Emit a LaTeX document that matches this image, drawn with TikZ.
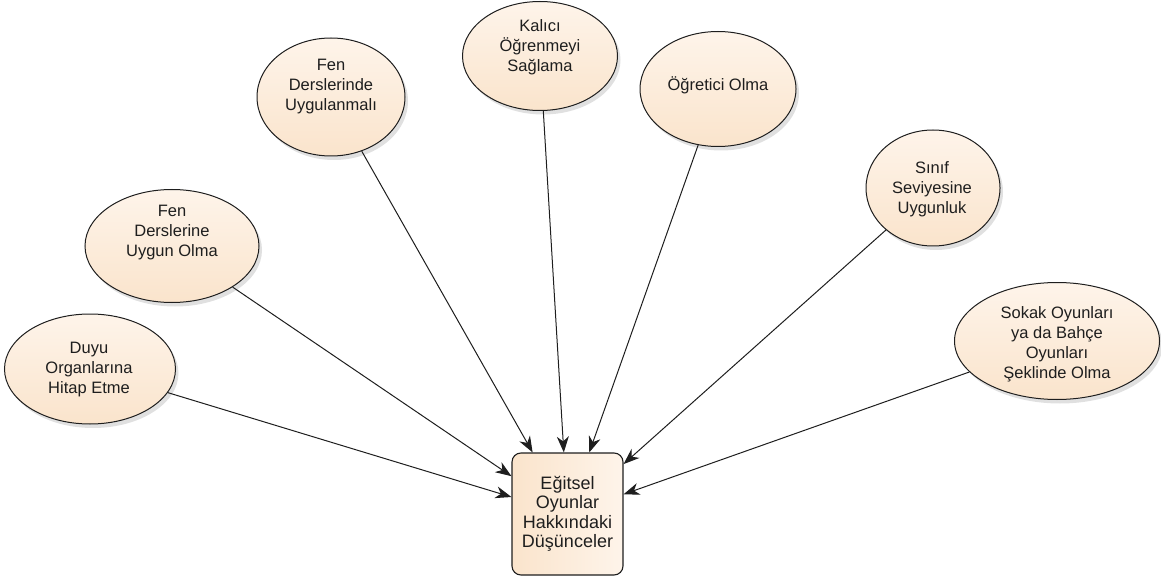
\documentclass[tikz,border=0pt]{standalone}
\usepackage{fontspec}
\setmainfont{Liberation Sans}
\usetikzlibrary{shapes.geometric,arrows.meta,shadows}
\definecolor{peach}{RGB}{250,228,204}
\definecolor{peachlight}{RGB}{254,244,234}
\definecolor{edge}{RGB}{30,30,30}
\definecolor{txt}{RGB}{30,30,30}
\tikzset{
  oval/.style={ellipse, draw=edge, line width=1pt, inner sep=0pt,
    top color=peachlight, bottom color=peach,
    drop shadow={shadow xshift=3pt, shadow yshift=-4pt, opacity=0.2, fill=black!60}},
  ovaltext/.style={align=center, font=\fontsize{16.5}{20}\selectfont, text=txt, inner sep=0pt},
  centerbox/.style={draw=edge, line width=1.1pt, rounded corners=9pt, inner sep=0pt,
    minimum width=111pt, minimum height=122pt, align=center,
    left color=peach, right color=peachlight,
    font=\fontsize{18}{19.5}\selectfont, text=txt},
  conn/.style={draw=edge, line width=1pt, -{Stealth[length=16pt,width=12pt,inset=5pt]}}
}
\begin{document}
\begin{tikzpicture}[x=1pt,y=-1pt]
\useasboundingbox (0,0) rectangle (1161,577);
% ellipses
\node[oval, minimum width=171pt, minimum height=110pt] (e1) at (90,369) {};
\node[oval, minimum width=174pt, minimum height=113pt] (e2) at (172,246) {};
\node[oval, minimum width=148pt, minimum height=118pt] (e3) at (331,97) {};
\node[oval, minimum width=155pt, minimum height=109pt] (e4) at (540,56) {};
\node[oval, minimum width=156pt, minimum height=115pt] (e5) at (718,89) {};
\node[oval, minimum width=134pt, minimum height=116pt] (e6) at (933,188) {};
\node[oval, minimum width=205pt, minimum height=117pt] (e7) at (1057,341) {};
% texts
\node[ovaltext] (t1) at (89,370) {Duyu\\Organlarına\\Hitap Etme};
\node[ovaltext] (t2) at (172,233) {Fen\\Derslerine\\Uygun Olma};
\node[ovaltext] (t3) at (331,87) {Fen\\Derslerinde\\Uygulanmalı};
\node[ovaltext] (t4) at (540,47) {Kalıcı\\Öğrenmeyi\\Sağlama};
\node[ovaltext] (t5) at (718,85) {Öğretici Olma};
\node[ovaltext] (t6) at (932,189) {Sınıf\\Seviyesine\\Uygunluk};
\node[ovaltext] (t7) at (1057,344) {Sokak Oyunları\\ya da Bahçe\\Oyunları\\Şeklinde Olma};
% centre box
\node[centerbox] (box) at (567.5,514) {Eğitsel\\Oyunlar\\Hakkındaki\\Düşünceler};
% connectors
\foreach \e in {e1,e2,e3,e4,e5,e6,e7}
  \draw[conn] (\e) -- (box);
\end{tikzpicture}
\end{document}
